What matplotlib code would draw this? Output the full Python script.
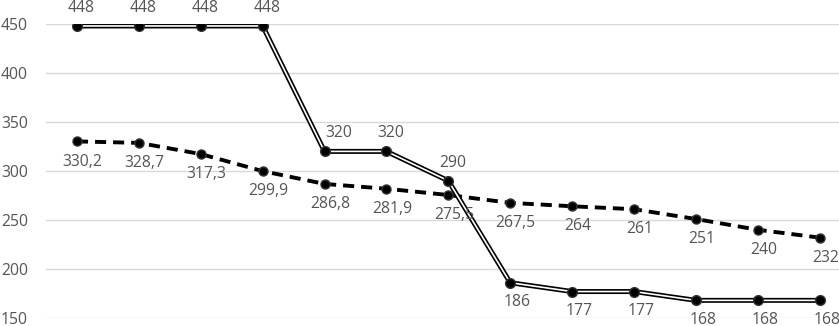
import matplotlib
matplotlib.use("Agg")
import matplotlib.pyplot as plt

plt.rcParams['font.family'] = ['Open Sans', 'DejaVu Sans']
plt.rcParams['lines.scale_dashes'] = False

# values
positions = list(range(13))
steps = [448, 448, 448, 448, 320, 320, 290, 186, 177, 177, 168, 168, 168]
step_labels = ['448', '448', '448', '448', '320', '320', '290',
               '186', '177', '177', '168', '168', '168']
step_above = [True, True, True, True, True, True, True,
              False, False, False, False, False, False]
trend = [330.2, 328.7, 317.3, 299.9, 286.8, 281.9, 275.5,
         267.5, 264, 261, 251, 240, 232]
trend_labels = ['330,2', '328,7', '317,3', '299,9', '286,8', '281,9', '275,5',
                '267,5', '264', '261', '251', '240', '232']
yticks = [150, 200, 250, 300, 350, 400, 450]

W, H = 839, 326
fig = plt.figure(figsize=(W / 100, H / 100), dpi=100)

# plot area in pixels: x from 46 (one category = 61.9 px), y 150 at 318, 450 at 24
cat_px = 61.9
left_px = 46
ax = fig.add_axes([left_px / W, (H - 318) / H, (W - left_px) / W, (318 - 24) / H])
ax.set_xlim(-0.5, -0.5 + (W - left_px) / cat_px)
ax.set_ylim(150, 450)

text_col = '#555555'
grid_col = '#d9d9d9'
fs = 11.3

ax.set_yticks(yticks)
ax.set_yticklabels([str(v) for v in yticks])
ax.tick_params(axis='y', length=0, pad=13, labelsize=fs, labelcolor=text_col)
ax.set_xticks([])
for s in ax.spines.values():
    s.set_visible(False)
ax.grid(axis='y', color=grid_col, linewidth=1.0)
ax.set_axisbelow(True)

# dashed series
ax.plot(positions, trend, color='black', linewidth=2.8, dashes=(8, 5),
        marker='o', markersize=6.5, markerfacecolor='black',
        markeredgecolor='#333333', zorder=3)

# double line series: thick black with thin white core
ax.plot(positions, steps, color='black', linewidth=3.6, zorder=4,
        solid_joinstyle='miter')
ax.plot(positions, steps, color='white', linewidth=1.2, zorder=5,
        solid_joinstyle='miter')
ax.plot(positions, steps, linestyle='none', marker='o', markersize=7,
        markerfacecolor='black', markeredgecolor='#333333', zorder=6)

for x, y, lab in zip(positions, trend, trend_labels):
    ax.annotate(lab, (x, y), xytext=(4, -14.5), textcoords='offset points',
                ha='center', va='center', fontsize=fs, color=text_col,
                annotation_clip=False, zorder=7)

for i, (x, y, lab, up) in enumerate(zip(positions, steps, step_labels, step_above)):
    dx = 10 if i == 4 else 3
    off = 13 if up else -14
    ax.annotate(lab, (x, y), xytext=(dx if up else 5, off), textcoords='offset points',
                ha='center', va='center', fontsize=fs, color=text_col,
                annotation_clip=False, zorder=7)

fig.savefig('out.png', dpi=100)
